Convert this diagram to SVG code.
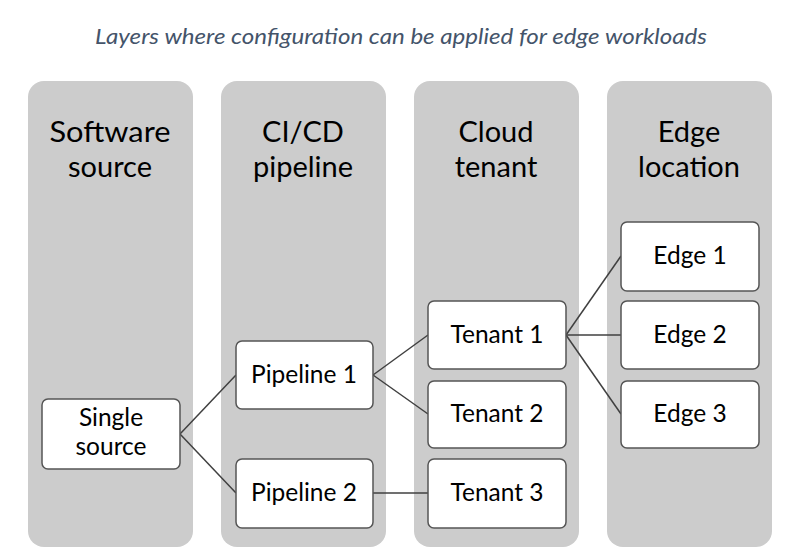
<svg xmlns="http://www.w3.org/2000/svg" width="803" height="554" viewBox="0 0 803 554">
<style>
.col{fill:#cccccc;}
.hdr{font-family:Lato,"Open Sans",sans-serif;font-size:29px;fill:#000;text-anchor:middle;}
.box{fill:#ffffff;stroke:#555555;stroke-width:1.5;}
.lbl{font-family:Lato,"Open Sans",sans-serif;font-size:24.5px;fill:#000;text-anchor:middle;}
.title{font-family:Lato,"Open Sans",sans-serif;font-size:21px;font-style:italic;fill:#44546a;text-anchor:middle;}
.con{stroke:#404040;stroke-width:1.5;fill:none;}
</style>
<rect width="803" height="554" fill="#ffffff"/>
<text class="title" x="401" y="44" textLength="612" lengthAdjust="spacingAndGlyphs">Layers where configuration can be applied for edge workloads</text>
<g id="col-software">
<rect class="col" x="28" y="81" width="165" height="466" rx="16"/>
<text class="hdr" x="110" y="142" textLength="121" lengthAdjust="spacingAndGlyphs">Software</text>
<text class="hdr" x="110" y="177">source</text>
</g>
<g id="col-cicd">
<rect class="col" x="221" y="81" width="165" height="466" rx="16"/>
<text class="hdr" x="303" y="142">CI/CD</text>
<text class="hdr" x="303" y="177">pipeline</text>
</g>
<g id="col-cloud">
<rect class="col" x="414" y="81" width="165" height="466" rx="16"/>
<text class="hdr" x="496" y="142">Cloud</text>
<text class="hdr" x="496" y="177">tenant</text>
</g>
<g id="col-edge">
<rect class="col" x="607" y="81" width="165" height="466" rx="16"/>
<text class="hdr" x="689" y="142">Edge</text>
<text class="hdr" x="689" y="177">location</text>
</g>
<g id="connectors">
<line class="con" x1="180" y1="434" x2="236" y2="375"/>
<line class="con" x1="180" y1="434" x2="236" y2="493"/>
<line class="con" x1="373" y1="375" x2="428" y2="335"/>
<line class="con" x1="373" y1="375" x2="428" y2="414"/>
<line class="con" x1="373" y1="493" x2="428" y2="493"/>
<line class="con" x1="566" y1="335" x2="621" y2="256"/>
<line class="con" x1="566" y1="335" x2="621" y2="335"/>
<line class="con" x1="566" y1="335" x2="621" y2="414"/>
</g>
<g id="single-source">
<rect class="box" x="42" y="399" width="138" height="70" rx="6"/>
<text class="lbl" x="111" y="426">Single</text>
<text class="lbl" x="111" y="455">source</text>
</g>
<g id="pipeline-1">
<rect class="box" x="236" y="341" width="137" height="68" rx="6"/>
<text class="lbl" x="304" y="383">Pipeline 1</text>
</g>
<g id="pipeline-2">
<rect class="box" x="236" y="459" width="137" height="69" rx="6"/>
<text class="lbl" x="304" y="501">Pipeline 2</text>
</g>
<g id="tenant-1">
<rect class="box" x="428" y="301" width="138" height="68" rx="6"/>
<text class="lbl" x="497" y="343">Tenant 1</text>
</g>
<g id="tenant-2">
<rect class="box" x="428" y="381" width="138" height="67" rx="6"/>
<text class="lbl" x="497" y="422">Tenant 2</text>
</g>
<g id="tenant-3">
<rect class="box" x="428" y="459" width="138" height="69" rx="6"/>
<text class="lbl" x="497" y="501">Tenant 3</text>
</g>
<g id="edge-1">
<rect class="box" x="621" y="222" width="138" height="69" rx="6"/>
<text class="lbl" x="690" y="264">Edge 1</text>
</g>
<g id="edge-2">
<rect class="box" x="621" y="301" width="138" height="68" rx="6"/>
<text class="lbl" x="690" y="343">Edge 2</text>
</g>
<g id="edge-3">
<rect class="box" x="621" y="381" width="138" height="67" rx="6"/>
<text class="lbl" x="690" y="422">Edge 3</text>
</g>
</svg>
